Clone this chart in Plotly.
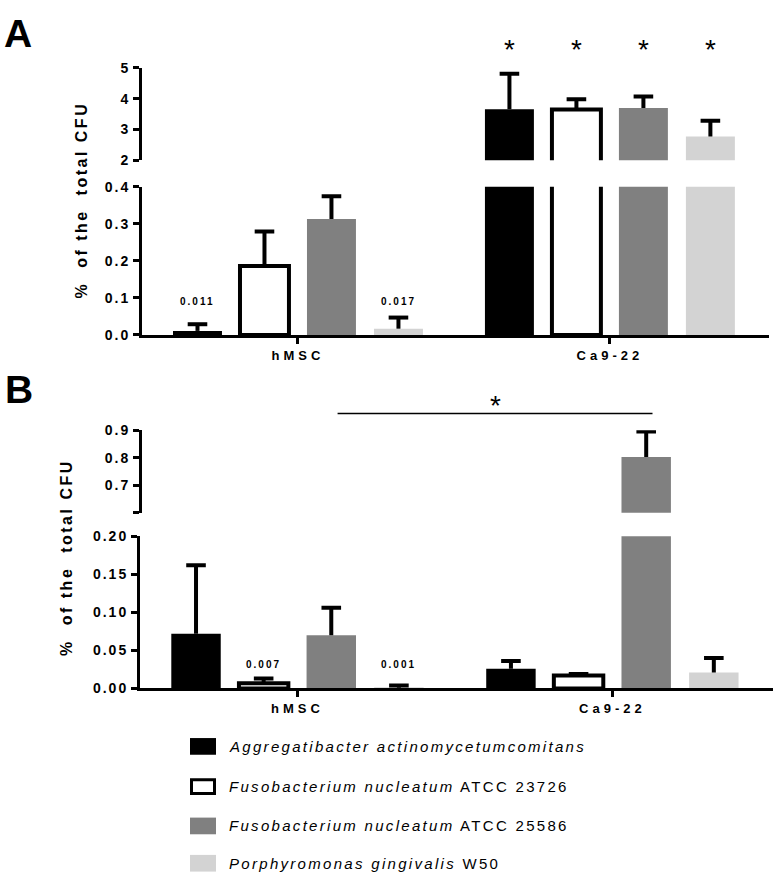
import plotly.graph_objects as go

# ---------------- data ----------------
groups = ["hMSC", "Ca9-22"]
species = ["Aggregatibacter actinomycetumcomitans", "Fusobacterium nucleatum",
           "Fusobacterium nucleatum", "Porphyromonas gingivalis"]
strains = ["", "ATCC 23726", "ATCC 25586", "W50"]
fill_colors = ["#000000", "#ffffff", "#808080", "#d3d3d3"]
edge_colors = ["#000000", "#000000", "#808080", "#d3d3d3"]
edge_widths = [0, 4, 0, 0]

# Panel A (% of total CFU), values per group [hMSC, Ca9-22]
a_aa = [0.011, 3.66]
a_fn23726 = [0.186, 3.65]
a_fn25586 = [0.313, 3.70]
a_pg = [0.017, 2.77]
a_err_aa = [0.018, 1.15]
a_err_fn23726 = [0.093, 0.33]
a_err_fn25586 = [0.061, 0.37]
a_err_pg = [0.030, 0.51]

# Panel B
b_aa = [0.072, 0.026]
b_fn23726 = [0.007, 0.017]
b_fn25586 = [0.070, 0.803]
b_pg = [0.001, 0.021]
b_err_aa = [0.090, 0.010]
b_err_fn23726 = [0.006, 0.002]
b_err_fn25586 = [0.036, 0.092]
b_err_pg = [0.003, 0.019]

# small value labels (series index, group index, text)
a_value_labels = [(0, 0, "0.011"), (3, 0, "0.017")]
b_value_labels = [(1, 0, "0.007"), (3, 0, "0.001")]

# axis ticks
a_low_ticks = [0.0, 0.1, 0.2, 0.3, 0.4]
a_low_text = ["0.0", "0.1", "0.2", "0.3", "0.4"]
a_up_ticks = [2, 3, 4, 5]
a_up_text = ["2", "3", "4", "5"]
b_low_ticks = [0.0, 0.05, 0.10, 0.15, 0.20]
b_low_text = ["0.00", "0.05", "0.10", "0.15", "0.20"]
b_up_ticks = [0.6, 0.7, 0.8, 0.9]
b_up_text = ["", "0.7", "0.8", "0.9"]

a_vals = [a_aa, a_fn23726, a_fn25586, a_pg]
a_errs = [a_err_aa, a_err_fn23726, a_err_fn25586, a_err_pg]
b_vals = [b_aa, b_fn23726, b_fn25586, b_pg]
b_errs = [b_err_aa, b_err_fn23726, b_err_fn25586, b_err_pg]

# ---------------- layout helpers ----------------
W, H = 778, 885
def py(p):
    return 1 - p / H
def px(p):
    return p / W
def sp(t, ls):
    return f'<span style="letter-spacing:{ls}px">{t}</span>'

FONT = "Liberation Sans"
BARGAP = 0.141
BARGROUPGAP = 0.269
slot = (1 - BARGAP) / 4
xpos = list(range(len(groups)))

def bar_x(gi, si):
    return xpos[gi] + (si - 1.5) * slot

ranges = {
    "A_low": [0, 0.4], "A_up": [2, 5],
    "B_low": [0, 0.2], "B_up": [0.6, 0.9],
}

fig = go.Figure()

def add_panel(vals, errs, xa, ya_low, ya_up, r_low, r_up):
    # bars (drawn on both segments of the broken axis)
    for i in range(4):
        for ya in (ya_low, ya_up):
            fig.add_trace(go.Bar(
                x=xpos, y=vals[i], xaxis=xa, yaxis=ya,
                name=(species[i] + " " + strains[i]).strip(),
                marker=dict(color=fill_colors[i],
                            line=dict(color=edge_colors[i], width=edge_widths[i])),
                offsetgroup=str(i), showlegend=False, hoverinfo="skip"))
    # upper-only error bars (drawn in the segment where the bar ends)
    for i in range(4):
        for ya, rng in ((ya_low, r_low), (ya_up, r_up)):
            xs, tops, downs = [], [], []
            for gi, (v, e) in enumerate(zip(vals[i], errs[i])):
                if rng[0] <= v <= rng[1]:
                    xs.append(bar_x(gi, i))
                    tops.append(v + e)
                    downs.append(e)
            if not xs:
                continue
            fig.add_trace(go.Scatter(
                x=xs, y=tops, xaxis=xa, yaxis=ya, mode="markers",
                marker=dict(symbol="line-ew", size=14, color="black",
                            line=dict(color="black", width=4)),
                error_y=dict(type="data", symmetric=False, array=[0] * len(xs),
                             arrayminus=downs, color="black", thickness=4, width=0),
                showlegend=False, hoverinfo="skip"))

add_panel(a_vals, a_errs, "x", "y", "y2", ranges["A_low"], ranges["A_up"])
add_panel(b_vals, b_errs, "x3", "y3", "y4", ranges["B_low"], ranges["B_up"])

tickfont = dict(family=FONT, size=14, color="black", weight="bold")

def yax(domain, rng, tv, tt, anchor):
    return dict(domain=domain, range=rng, tickvals=tv,
                ticktext=[sp(t, 2) for t in tt], showline=True, linewidth=3,
                linecolor="black", ticks="outside", ticklen=6, tickwidth=3,
                tickcolor="black", showgrid=False, zeroline=False,
                tickfont=tickfont, anchor=anchor, fixedrange=True)

def xax(domain, anchor, visible=True):
    return dict(domain=domain, range=[-0.5, 1.51], type="linear",
                tickvals=xpos, ticktext=[sp(g, 4) for g in groups],
                showline=True, linewidth=3, linecolor="black", ticks="outside",
                ticklen=6, tickwidth=3, tickcolor="black", showgrid=False,
                zeroline=False,
                tickfont=dict(family=FONT, size=13, color="black", weight="bold"),
                anchor=anchor, fixedrange=True, visible=visible)

xa_dom = [px(142), px(769)]
xb_dom = [px(140), px(773)]

fig.update_layout(
    width=W, height=H, margin=dict(l=0, r=0, t=0, b=0),
    paper_bgcolor="white", plot_bgcolor="rgba(0,0,0,0)",
    barmode="group", bargap=BARGAP, bargroupgap=BARGROUPGAP,
    showlegend=False,
    xaxis=xax(xa_dom, "y"),
    xaxis2=xax(xa_dom, "y2", visible=False),
    xaxis3=xax(xb_dom, "y3"),
    xaxis4=xax(xb_dom, "y4", visible=False),
    yaxis=yax([py(333), py(182)], ranges["A_low"], a_low_ticks, a_low_text, "x"),
    yaxis2=yax([py(155), py(61)], ranges["A_up"], a_up_ticks, a_up_text, "x2"),
    yaxis3=yax([py(693), py(538)], ranges["B_low"], b_low_ticks, b_low_text, "x3"),
    yaxis4=yax([py(514), py(430)], ranges["B_up"], b_up_ticks, b_up_text, "x4"),
)

ann = []
# panel letters
ann.append(dict(text="<b>A</b>", x=px(2), y=py(2), xref="paper", yref="paper",
                xanchor="left", yanchor="top", showarrow=False,
                font=dict(family=FONT, size=39, color="black")))
ann.append(dict(text="<b>B</b>", x=px(3), y=py(365), xref="paper", yref="paper",
                xanchor="left", yanchor="top", showarrow=False,
                font=dict(family=FONT, size=39, color="black")))

# y titles
ytitle = "%\u00a0\u00a0of the\u00a0\u00a0total CFU"
for xc, yc in ((81, 196), (67, 560)):
    ann.append(dict(text=sp(ytitle, 2.5), x=px(xc), y=py(yc), xref="paper", yref="paper",
                    textangle=-90, showarrow=False, xanchor="center", yanchor="middle",
                    font=dict(family=FONT, size=16, color="black", weight="bold")))

# asterisks over Ca9-22 bars in A
for si in range(4):
    ann.append(dict(text="*", x=bar_x(1, si), y=py(42), xref="x", yref="paper",
                    showarrow=False, yanchor="middle",
                    font=dict(family=FONT, size=28, color="black")))

# small value labels
for si, gi, t in a_value_labels:
    ann.append(dict(text=sp(t, 2), x=bar_x(gi, si), y=0.09, xref="x", yref="y",
                    showarrow=False, yanchor="middle",
                    font=dict(family=FONT, size=10, color="black", weight="bold")))
for si, gi, t in b_value_labels:
    ann.append(dict(text=sp(t, 2), x=bar_x(gi, si), y=0.031, xref="x3", yref="y3",
                    showarrow=False, yanchor="middle",
                    font=dict(family=FONT, size=10, color="black", weight="bold")))

# significance bracket in B (hMSC Fn25586 vs Ca9-22 Fn25586)
shapes = [dict(type="line", xref="x3", yref="paper",
               x0=bar_x(0, 2) + 0.02, x1=bar_x(1, 2) + 0.02,
               y0=py(413), y1=py(413), line=dict(color="black", width=1.5))]
ann.append(dict(text="*", x=(bar_x(0, 2) + bar_x(1, 2)) / 2 + 0.02, y=py(405),
                xref="x3", yref="paper", showarrow=False, yanchor="middle",
                font=dict(family=FONT, size=28, color="black")))

# legend
rows = [752, 793, 833, 871]
for i, yc in enumerate(rows):
    lw = 3 if edge_widths[i] else 0
    inset = lw / 2
    shapes.append(dict(type="rect", xref="paper", yref="paper",
                       x0=px(190 + inset), x1=px(216 - inset),
                       y0=py(yc + 8.5 - inset), y1=py(yc - 8.5 + inset),
                       fillcolor=fill_colors[i],
                       line=dict(color="black", width=lw)))
    label = f"<i>{species[i]}</i>" + (f" {strains[i]}" if strains[i] else "")
    ann.append(dict(text=sp(label, 2.3), x=px(227), y=py(yc), xref="paper", yref="paper",
                    xanchor="left", yanchor="middle", showarrow=False,
                    font=dict(family=FONT, size=15, color="black")))

fig.update_layout(annotations=ann, shapes=shapes)
fig.write_html("out.html", config={"displayModeBar": False},
               post_script="document.body.style.margin='0';document.body.style.overflow='hidden';")
